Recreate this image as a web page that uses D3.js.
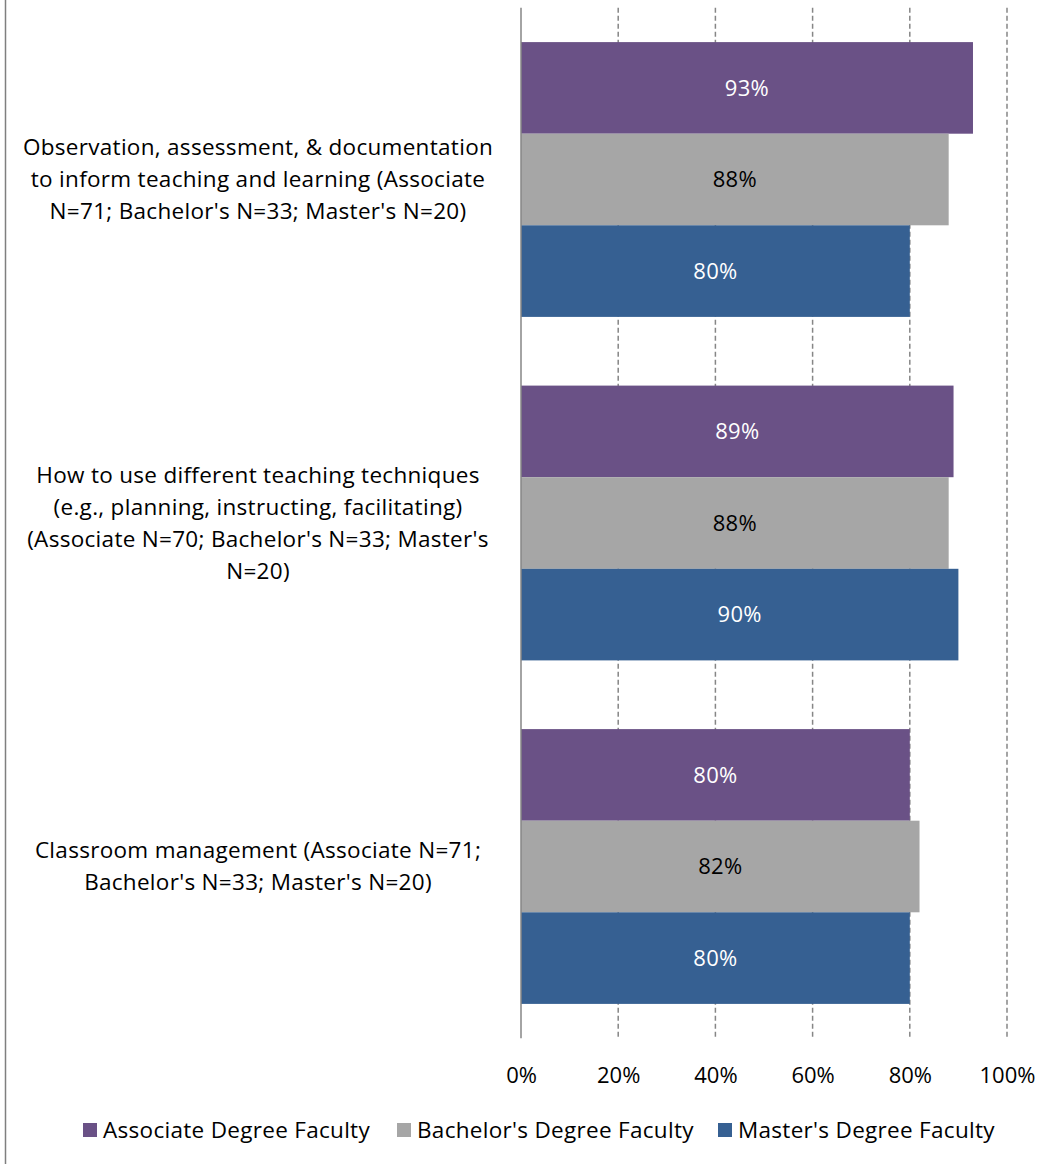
<!DOCTYPE html>
<html>
<head>
<meta charset="utf-8">
<script src="https://cdn.jsdelivr.net/npm/d3@7"></script>
<style>
  html, body { margin: 0; padding: 0; background: #fff; }
  svg { display: block; font-family: "Open Sans", Lato, sans-serif; }
</style>
</head>
<body>
<svg id="chart" width="1056" height="1164"></svg>
<script>
// Topics covered in coursework, by faculty degree level
const categories = [
  ["Observation, assessment, & documentation", "to inform teaching and learning (Associate", "N=71; Bachelor's N=33; Master's N=20)"],
  ["How to use different teaching techniques", "(e.g., planning, instructing, facilitating)", "(Associate N=70; Bachelor's N=33; Master's", "N=20)"],
  ["Classroom management (Associate N=71;", "Bachelor's N=33; Master's N=20)"]
];
const seriesNames = ["Associate Degree Faculty", "Bachelor's Degree Faculty", "Master's Degree Faculty"];
const associateValues = [93, 89, 80];
const bachelorValues = [88, 88, 82];
const masterValues = [80, 90, 80];
const tickValues = [0, 20, 40, 60, 80, 100];

const colors = ["#6a5186", "#a6a6a6", "#366092"];
const labelColors = ["#ffffff", "#000000", "#ffffff"];
const seriesValues = [associateValues, bachelorValues, masterValues];

const svg = d3.select("#chart");

// frame line on the left
svg.append("line")
  .attr("x1", 5.5).attr("x2", 5.5).attr("y1", 0).attr("y2", 1164)
  .attr("stroke", "#7f7f7f").attr("stroke-width", 1.5);

const plotTop = 7.75, plotBottom = 1038.25;
const x = d3.scaleLinear().domain([0, 100]).range([521, 1007]);
const y0 = d3.scaleBand().domain(d3.range(categories.length))
  .range([plotTop, plotBottom]).paddingInner(0.2).paddingOuter(0.1);
const y1 = d3.scaleBand().domain(d3.range(seriesNames.length))
  .range([0, y0.bandwidth()]);

// dashed gridlines
svg.append("g").selectAll("line")
  .data(tickValues.filter(t => t > 0))
  .join("line")
  .attr("x1", d => x(d)).attr("x2", d => x(d))
  .attr("y1", plotTop).attr("y2", plotBottom)
  .attr("stroke", "#868686").attr("stroke-width", 1.5)
  .attr("stroke-dasharray", "5,3");

// bars
const groups = svg.append("g").selectAll("g")
  .data(categories)
  .join("g")
  .attr("transform", (d, i) => `translate(0,${y0(i)})`);

groups.each(function(cat, ci) {
  const g = d3.select(this);
  seriesNames.forEach((s, si) => {
    const v = seriesValues[si][ci];
    g.append("rect")
      .attr("x", x(0))
      .attr("y", y1(si))
      .attr("width", x(v) - x(0))
      .attr("height", y1.bandwidth())
      .attr("fill", colors[si]);
    g.append("text")
      .attr("x", (x(0) + x(v)) / 2)
      .attr("y", y1(si) + y1.bandwidth() / 2)
      .attr("dy", "0.35em")
      .attr("text-anchor", "middle")
      .attr("font-size", 22)
      .attr("letter-spacing", 0.3)
      .attr("fill", labelColors[si])
      .text(v + "%");
  });
  // category label
  const lineH = 32;
  const cy = y0.bandwidth() / 2;
  const t = g.append("text")
    .attr("text-anchor", "middle")
    .attr("font-size", 22.5)
    .attr("letter-spacing", 0.3)
    .attr("fill", "#000");
  cat.forEach((line, li) => {
    t.append("tspan")
      .attr("x", 258)
      .attr("y", cy + (li - (cat.length - 1) / 2) * lineH)
      .attr("dy", "0.35em")
      .text(line);
  });
});

// value axis
const axis = d3.axisBottom(x).tickValues(tickValues).tickFormat(d => d + "%").tickSize(0).tickPadding(0);
const ax = svg.append("g").attr("transform", `translate(0,1075)`).call(axis);
ax.select(".domain").remove();
ax.selectAll("text").attr("font-size", 22).attr("fill", "#000")
  .attr("font-family", "'Open Sans', Lato, sans-serif").attr("dy", "0.35em");

// category axis line
svg.append("line")
  .attr("x1", x(0)).attr("x2", x(0))
  .attr("y1", plotTop).attr("y2", plotBottom)
  .attr("stroke", "#868686").attr("stroke-width", 1.5);

// legend
const legendX = [83, 397, 718];
const legend = svg.append("g").selectAll("g")
  .data(seriesNames)
  .join("g")
  .attr("transform", (d, i) => `translate(${legendX[i]},1130)`);
legend.append("rect")
  .attr("x", 0).attr("y", -7).attr("width", 14).attr("height", 14)
  .attr("fill", (d, i) => colors[i]);
legend.append("text")
  .attr("x", 20).attr("dy", "0.35em")
  .attr("font-size", 22.5).attr("letter-spacing", 0.3).attr("fill", "#000")
  .text(d => d);
</script>
</body>
</html>
